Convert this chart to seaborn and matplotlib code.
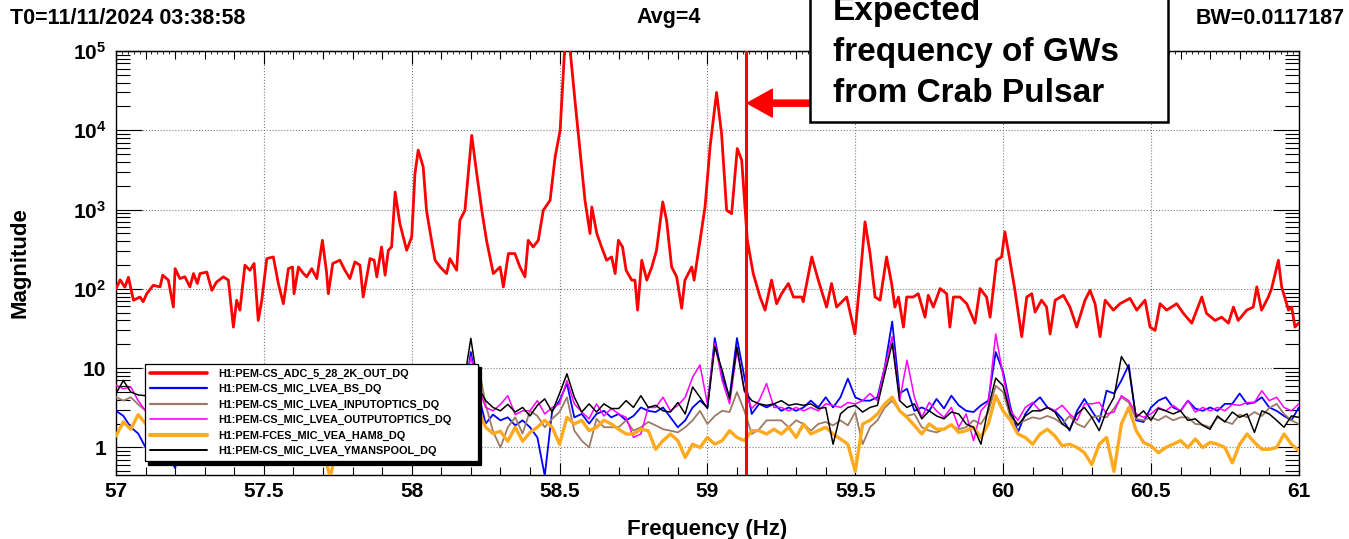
# -*- coding: utf-8 -*-
"""
Crab pulsar band: DTT style magnitude spectrum of H1 ADC channel and PEM microphones
57-61 Hz, log magnitude, values read off the screenshot.
"""

import matplotlib
matplotlib.use("Agg")
import numpy as np
import pandas as pd
import matplotlib.pyplot as plt
import seaborn as sns
from matplotlib.ticker import FixedLocator, FixedFormatter, MultipleLocator, LogLocator, NullFormatter
from matplotlib.patches import Rectangle

# ========================= data =========================
CHANNELS = [
    "H1:PEM-CS_ADC_5_28_2K_OUT_DQ",
    "H1:PEM-CS_MIC_LVEA_BS_DQ",
    "H1:PEM-CS_MIC_LVEA_INPUTOPTICS_DQ",
    "H1:PEM-CS_MIC_LVEA_OUTPUTOPTICS_DQ",
    "H1:PEM-FCES_MIC_VEA_HAM8_DQ",
    "H1:PEM-CS_MIC_LVEA_YMANSPOOL_DQ",
]
COLORS = ["#ff0000", "#0000ff", "#9c7b66", "#ff00ff", "#ffaa1e", "#000000"]
LINE_W = [2.0, 1.3, 1.3, 1.1, 2.4, 1.1]
LEGEND_W = [2.6, 1.6, 1.6, 1.2, 3.0, 1.4]

# red ADC channel, sampled where it was read
red_freq = [
    57.000, 57.014, 57.030, 57.042, 57.059, 57.081, 57.092, 57.104, 57.126, 57.149,
    57.158, 57.177, 57.194, 57.200, 57.216, 57.233, 57.250, 57.262, 57.275, 57.284,
    57.307, 57.324, 57.340, 57.363, 57.380, 57.397, 57.408, 57.419, 57.436, 57.453,
    57.467, 57.481, 57.493, 57.510, 57.532, 57.549, 57.566, 57.583, 57.597, 57.602,
    57.617, 57.634, 57.645, 57.662, 57.679, 57.698, 57.712, 57.718, 57.733, 57.757,
    57.774, 57.791, 57.808, 57.825, 57.836, 57.859, 57.873, 57.882, 57.898, 57.910,
    57.921, 57.932, 57.944, 57.960, 57.983, 58.000, 58.011, 58.022, 58.039, 58.050,
    58.067, 58.079, 58.096, 58.118, 58.129, 58.152, 58.163, 58.180, 58.203, 58.220,
    58.237, 58.253, 58.276, 58.299,
    58.310, 58.327, 58.349, 58.366, 58.383, 58.394, 58.411, 58.428, 58.445, 58.468,
    58.485, 58.502, 58.518, 58.535, 58.552, 58.569, 58.586, 58.603, 58.609, 58.626,
    58.642, 58.659, 58.676, 58.688, 58.699, 58.713, 58.725, 58.744, 58.755, 58.764,
    58.778, 58.795, 58.812, 58.828, 58.849, 58.862, 58.879, 58.896, 58.913, 58.924,
    58.947, 58.955, 58.975, 58.992, 59.009, 59.031, 59.048, 59.065, 59.082, 59.101,
    59.116, 59.127, 59.135, 59.155, 59.178, 59.195, 59.217, 59.234, 59.251, 59.274,
    59.291, 59.319, 59.324, 59.353, 59.375, 59.403, 59.420, 59.437, 59.471, 59.499,
    59.516, 59.533, 59.550, 59.567, 59.584, 59.606, 59.623, 59.634, 59.646, 59.663,
    59.674, 59.696, 59.713,
    59.736, 59.747, 59.764, 59.787, 59.809, 59.820, 59.832, 59.854, 59.877, 59.905,
    59.922, 59.944, 59.956, 59.978, 59.995, 60.006, 60.023, 60.040, 60.063, 60.080,
    60.097, 60.108, 60.130, 60.147, 60.159, 60.176, 60.204, 60.226, 60.249, 60.277,
    60.294, 60.311, 60.328, 60.345, 60.373, 60.395, 60.429, 60.452, 60.480, 60.497,
    60.514, 60.531, 60.553, 60.587, 60.610, 60.638, 60.655, 60.672, 60.688, 60.717,
    60.739, 60.762, 60.779, 60.795, 60.824, 60.846, 60.858, 60.874, 60.897, 60.908,
    60.931, 60.942, 60.965, 60.976, 60.987, 60.999,
]
red_mag = [
    100, 130, 105, 140, 72, 79, 69, 87, 111, 106,
    149, 129, 59, 180, 135, 142, 106, 156, 117, 156,
    163, 96, 122, 142, 129, 33, 72, 54, 199, 172,
    209, 40, 72, 241, 253, 117, 65, 180, 189, 87,
    189, 156, 142, 180, 135, 410, 163, 87, 209, 230,
    172, 135, 219, 199, 79, 241, 230, 142, 338, 149,
    307, 338, 1665, 665, 307, 452, 2830, 5620, 3430, 980,
    410, 230, 189, 156, 241, 172, 732, 980, 8620, 2830,
    980, 410, 156, 189,
    106, 279, 279, 189, 142, 410, 338, 410, 980, 1310,
    4600, 10000, 120000, 110000, 24000, 5620, 1310, 500, 1080, 500,
    338, 230, 253, 156, 410, 338, 172, 129, 129, 54,
    230, 129, 189, 307, 1250, 732, 189, 142, 57, 129,
    189, 129, 410, 1080, 6180, 30000, 9000, 980, 890, 5890,
    4200, 1080, 410, 156, 79, 54, 129, 65, 87, 117,
    79, 79, 69, 253, 129, 59, 117, 59, 79, 27,
    129, 700, 279, 79, 72, 253, 117, 59, 79, 33,
    79, 79, 87,
    44, 83, 59, 101, 87, 33, 79, 79, 65, 37,
    101, 79, 44, 230, 253, 524, 230, 96, 25, 79,
    87, 51, 72, 59, 27, 72, 83, 59, 33, 72,
    96, 65, 25, 72, 54, 65, 76, 54, 72, 33,
    30, 65, 54, 65, 49, 37, 54, 79, 49, 40,
    44, 37, 59, 40, 54, 59, 106, 54, 79, 101,
    230, 106, 54, 59, 33, 37,
]

# microphones share one frequency grid, 57.000 ... 61.000 Hz in 0.025 Hz bins
mic_freq = np.round(np.linspace(57.0, 61.0, 161), 3)

blue_mag = [
    2.9, 2.5, 1.8, 1.5,
    1.0, 1.4, 1.2, 0.8, 0.55, 1.3, 1.8, 2.0, 1.7, 2.2, 2.0, 1.8, 2.4, 2.1, 1.9, 2.3,
    2.0, 2.6, 2.2, 1.9, 2.4, 2.1, 2.5, 2.0, 2.3, 1.9, 2.2, 2.6, 2.1, 2.4, 2.0, 2.3,
    2.7, 2.2, 2.5, 2.1, 2.4, 2.6, 2.2, 2.0, 2.5, 2.3, 2.8, 3.5,
    16, 4.8, 2.0, 2.6, 2.2, 2.4, 1.9, 2.2,
    1.8, 1.34, 0.44, 2.9, 3.9, 6.4, 2.4, 2.65, 2.0, 2.65, 2.9, 2.4, 2.65, 2.2, 2.5, 3.2,
    2.9, 2.8, 3.2, 2.4, 1.8, 2.2, 3.2, 3.9, 3.2, 24, 7.7, 4.3, 24, 7.7, 2.65, 3.55,
    3.2, 3.55, 2.9, 3.2, 2.9, 3.2, 3.9, 3.2, 4.3, 3.2, 4.3, 7.4, 4.3, 3.9, 3.9, 4.3,
    10.4, 38.8, 4.8, 5.5, 2.9,
    3.2, 2.9, 4.1, 3.1, 4.5, 3.4, 2.9, 2.8, 3.4, 3.9, 16, 9, 3.2, 1.55, 2.65, 3.55,
    4.3, 3.2, 2.9, 2.3, 1.63, 2.9, 4.1, 2.9, 2.1, 5.2, 4.8, 7, 11, 2.2, 2.1, 3.2,
    3.9, 4.3, 3.2, 2.9, 3.9, 3.1, 2.9, 3.2, 2.9, 3.55, 3.55, 4.8, 3.55, 3.7, 4.3, 3.2,
    2.9, 2.5, 2.2, 3.2,
]
brown_mag = [
    4.3, 3.9, 4.3, 3.5,
    2.9, 3.2, 2.6, 2.4, 2.8, 2.2, 2.5, 2.0, 2.3, 2.6, 2.1, 1.9, 2.4, 2.2, 1.8, 2.5,
    2.0, 2.3, 1.9, 2.1, 2.4, 1.7, 2.2, 2.0, 2.5, 1.9, 2.3, 2.1, 1.8, 2.2, 2.6, 2.0,
    1.9, 2.3, 2.1, 2.4, 1.8, 2.2, 2.5, 2.0, 2.3, 2.7, 3.2, 4.5,
    7.7, 11, 3.5, 1.6, 1.0, 1.8, 2.4, 1.5,
    2.9, 2.5, 1.8, 2.3, 2.8, 4.3, 1.63, 1.22, 1.0, 2.3, 1.8, 1.8, 1.8, 2.2, 1.63, 1.8,
    2.1, 1.9, 1.7, 1.63, 1.55, 1.8, 2.2, 2.9, 1.98, 2.5, 2.9, 2.8, 5.0, 2.9, 1.48, 1.7,
    2.2, 2.2, 2.2, 1.8, 2.2, 1.98, 1.63, 1.98, 2.1, 1.9, 2.2, 1.9, 2.8, 1.1, 1.8, 2.2,
    3.2, 3.9, 2.9, 2.5, 2.65,
    1.8, 1.63, 1.55, 1.7, 1.9, 1.7, 1.8, 2.2, 1.98, 2.8, 6, 5, 2.4, 1.98, 2.2, 2.4,
    2.3, 2.5, 2.3, 1.98, 2.5, 1.98, 1.8, 2.4, 2.5, 2.4, 3.1, 4.3, 3.7, 2.3, 2.2, 2.4,
    2.2, 2.5, 2.2, 2.4, 2.4, 1.98, 1.94, 1.8, 2.4, 2.14, 1.98, 2.6, 2.4, 2.8, 2.5, 3.15,
    3.55, 2.65, 2.2, 1.98,
]
magenta_mag = [
    6.1, 5.5, 5.8, 3.9,
    2.9, 3.2, 3.6, 3.0, 2.7, 3.3, 3.8, 3.1, 2.9, 3.4, 3.0, 3.6, 3.2, 2.8, 3.5, 3.1,
    3.9, 3.3, 2.9, 3.6, 3.2, 3.0, 3.7, 3.4, 2.9, 3.3, 3.8, 3.1, 3.5, 3.0, 3.4, 3.9,
    3.2, 3.6, 3.1, 3.3, 3.7, 3.0, 3.4, 3.2, 3.6, 3.9, 4.2, 5.0,
    14, 5.8, 3.2, 2.9, 3.5, 4.5, 2.6, 2.9,
    2.9, 3.9, 2.65, 3.2, 3.55, 7.0, 3.55, 2.8, 2.3, 3.55, 2.5, 3.1, 2.65, 2.4, 1.34, 1.48,
    3.2, 3.2, 4.3, 2.9, 3.4, 4.3, 7.7, 11, 3.55, 20.6, 7.0, 3.55, 16.9, 5.2, 3.1, 3.9,
    6.4, 3.2, 3.2, 2.9, 3.2, 2.9, 3.2, 2.9, 3.55, 3.4, 3.2, 3.7, 3.55, 3.9, 4.8, 3.9,
    10.4, 25, 3.9, 12.6, 4.3,
    2.4, 3.7, 2.9, 2.4, 3.2, 1.8, 2.65, 1.22, 2.9, 3.7, 27, 8, 2.9, 2.2, 3.2, 3.7,
    2.9, 3.2, 2.9, 3.4, 2.65, 2.2, 3.55, 3.55, 3.7, 2.65, 2.8, 4.5, 3.9, 2.65, 2.4, 2.65,
    3.2, 2.9, 3.4, 2.9, 3.9, 2.8, 3.2, 2.9, 3.2, 2.9, 3.5, 3.4, 3.7, 3.7, 5.2, 3.9,
    4.3, 3.2, 2.9, 3.55,
]
orange_mag = [
    1.4, 2.1, 1.7, 2.6,
    2.0, 1.6, 1.9, 1.4, 1.7, 1.3, 1.8, 1.5, 1.2, 1.6, 1.4, 1.9, 1.3, 1.7, 1.5, 1.2,
    1.6, 1.4, 1.8, 1.3, 1.5, 1.7, 1.2, 1.4, 0.9, 0.42, 1.3, 1.6, 1.4, 1.8, 1.5, 1.3,
    1.7, 1.4, 1.9, 1.6, 1.3, 1.8, 1.5, 2.0, 1.7, 2.2, 1.9, 2.4,
    3.9, 2.9, 1.8, 1.5, 1.6, 1.2, 1.8, 1.2,
    1.55, 1.8, 2.2, 1.8, 1.1, 2.4, 1.98, 2.2, 1.63, 1.8, 2.2, 1.98, 1.7, 1.48, 1.48, 1.7,
    1.63, 0.95, 1.22, 1.48, 1.22, 0.75, 1.1, 1.0, 1.34, 1.1, 1.22, 1.63, 1.34, 1.22, 1.63, 1.63,
    1.48, 1.7, 1.48, 1.8, 1.34, 1.98, 1.48, 1.63, 1.8, 1.48, 1.28, 1.1, 0.5, 1.98, 2.2, 2.65,
    3.55, 4.3, 2.9, 2.4, 1.9,
    1.48, 1.98, 1.7, 1.7, 1.94, 1.55, 1.63, 1.8, 1.34, 1.98, 4.5, 2.9, 2.2, 1.48, 1.34, 1.1,
    1.48, 1.7, 1.4, 1.05, 1.1, 1.0, 0.86, 0.61, 1.1, 1.34, 0.5, 1.98, 3.2, 1.63, 1.16, 1.05,
    0.86, 1.0, 1.1, 1.22, 1.0, 1.28, 1.0, 1.16, 1.1, 1.0, 0.64, 1.1, 1.48, 1.16, 0.95, 0.95,
    1.0, 1.48, 1.1, 0.91,
]
black_mag = [
    4.8, 7.0, 5.0, 4.6,
    4.5, 4.2, 3.8, 3.5, 3.2, 3.6, 3.0, 3.4, 2.8, 3.1, 3.5, 2.9, 3.3, 3.7, 3.0, 3.2,
    2.8, 3.5, 3.9, 3.1, 2.7, 3.3, 3.6, 3.0, 3.4, 2.9, 3.2, 3.8, 3.1, 2.8, 3.5, 3.3,
    3.0, 3.6, 3.2, 2.9, 3.4, 3.7, 3.1, 3.3, 3.0, 3.5, 4.0, 6.0,
    23.8, 5.8, 3.9, 3.2, 2.9, 3.5, 2.8, 3.2,
    2.5, 3.4, 4.1, 2.8, 4.8, 8.5, 4.3, 2.8, 3.55, 2.8, 3.55, 3.1, 3.1, 3.9, 3.2, 4.5,
    3.2, 3.4, 2.9, 2.8, 3.7, 2.65, 5.8, 4.3, 3.1, 18.6, 9.4, 4.1, 18.6, 5.2, 3.9, 3.55,
    3.4, 3.55, 3.9, 3.4, 3.55, 3.4, 3.55, 3.1, 3.2, 1.1, 2.65, 3.2, 3.4, 2.8, 3.2, 3.4,
    8.5, 20.6, 3.9, 3.2, 3.55,
    2.3, 2.9, 2.5, 2.3, 2.8, 2.65, 1.98, 1.8, 1.1, 3.2, 7.5, 6, 2.65, 1.9, 2.5, 2.9,
    2.9, 3.2, 2.8, 1.98, 1.7, 2.65, 3.2, 2.4, 1.63, 2.9, 4.3, 14, 10, 2.4, 2.9, 2.2,
    3.1, 2.9, 2.65, 2.9, 2.2, 2.3, 1.9, 1.7, 2.5, 2.1, 2.8, 2.4, 2.65, 1.55, 2.9, 2.65,
    2.2, 1.8, 2.5, 2.4,
]

CRAB_GW_FREQ = 59.13

xtick_vals = [57, 57.5, 58, 58.5, 59, 59.5, 60, 60.5, 61]
xtick_labels = ["57", "57.5", "58", "58.5", "59", "59.5", "60", "60.5", "61"]
ytick_vals = [1, 10, 1e2, 1e3, 1e4, 1e5]
ytick_labels = ["1", "10", r"$10^{2}$", r"$10^{3}$", r"$10^{4}$", r"$10^{5}$"]

HEADER_LEFT = "T0=11/11/2024 03:38:58"
HEADER_MID = "Avg=4"
HEADER_RIGHT = "BW=0.0117187"
NOTE = "Expected\nfrequency of GWs\nfrom Crab Pulsar"
# ========================================================

sns.set_style("ticks", {"axes.edgecolor": "black", "xtick.color": "black",
                        "ytick.color": "black", "text.color": "black",
                        "axes.labelcolor": "black"})
plt.rcParams['font.family'] = ['Liberation Sans', 'DejaVu Sans']
plt.rcParams['font.weight'] = 'bold'
plt.rcParams['mathtext.fontset'] = 'custom'
plt.rcParams['mathtext.rm'] = 'Liberation Sans:bold'
plt.rcParams['mathtext.it'] = 'Liberation Sans:bold'
plt.rcParams['mathtext.bf'] = 'Liberation Sans:bold'

W, H = 1349, 539
fig = plt.figure(figsize=(W / 100, H / 100), dpi=100)
ax = fig.add_axes([116 / W, 64 / H, 1182.8 / W, 424 / H])

df_red = pd.DataFrame({"freq": red_freq, "mag": red_mag})
df_mic = pd.DataFrame({"freq": mic_freq, CHANNELS[1]: blue_mag, CHANNELS[2]: brown_mag,
                       CHANNELS[3]: magenta_mag, CHANNELS[4]: orange_mag,
                       CHANNELS[5]: black_mag})

sns.lineplot(data=df_red, x="freq", y="mag", color=COLORS[0], linewidth=LINE_W[0],
             label=CHANNELS[0], estimator=None, ax=ax, zorder=3)
for i in range(1, 6):
    sns.lineplot(data=df_mic, x="freq", y=CHANNELS[i], color=COLORS[i],
                 linewidth=LINE_W[i], label=CHANNELS[i], estimator=None, ax=ax, zorder=3)

ax.set_yscale('log')
ax.set_xlim(57, 61)
ax.set_ylim(0.45, 1e5)

ax.axvline(CRAB_GW_FREQ, color="red", lw=2.2, zorder=5)

# ticks, ROOT look: inside, all four sides
ax.xaxis.set_major_locator(FixedLocator(xtick_vals))
ax.xaxis.set_major_formatter(FixedFormatter(xtick_labels))
ax.xaxis.set_minor_locator(MultipleLocator(0.1))
ax.yaxis.set_major_locator(FixedLocator(ytick_vals))
ax.yaxis.set_major_formatter(FixedFormatter(ytick_labels))
ax.yaxis.set_minor_locator(LogLocator(base=10, subs=np.arange(2, 10), numticks=20))
ax.yaxis.set_minor_formatter(NullFormatter())
ax.tick_params(which='both', direction='in', top=True, right=True, width=0.8)
ax.tick_params(axis='x', which='major', length=9, labelsize=15, pad=5)
ax.tick_params(axis='x', which='minor', length=5.5)
ax.tick_params(axis='y', which='major', length=19, labelsize=15, pad=7)
ax.tick_params(axis='y', which='minor', length=10)
for sp in ax.spines.values():
    sp.set_linewidth(1.0)
    sp.set_color("black")

top = ax.secondary_xaxis('top')
top.xaxis.set_major_locator(MultipleLocator(0.02))
top.tick_params(direction='in', length=2, width=0.6, labeltop=False)

ax.grid(True, which='major', ls=':', color='#808080', lw=0.8)
ax.set_axisbelow(True)

ax.set_xlabel("Frequency (Hz)", fontsize=16, fontweight='bold')
ax.set_ylabel("Magnitude", fontsize=16, fontweight='bold')
ax.xaxis.set_label_coords(0.5, -0.128)
ax.xaxis.label.set_va('center')
ax.yaxis.set_label_coords(-0.081, 0.502)
ax.yaxis.label.set_va('center')

handles, labels = ax.get_legend_handles_labels()
leg = ax.legend(handles, labels, loc='upper left',
                bbox_to_anchor=(0.0245, 0.2524, 0.2815, 0.01), mode='expand',
                fontsize=7.8, frameon=True, fancybox=False, edgecolor='black',
                framealpha=1, shadow={'color': 'black', 'alpha': 1, 'ox': 2.5, 'oy': -2.5},
                borderaxespad=0, handlelength=5.3, handletextpad=1.0,
                labelspacing=0.5, borderpad=0.45)
leg.get_frame().set_linewidth(0.9)
leg.set_zorder(8)
for ln, w in zip(leg.get_lines(), LEGEND_W):
    ln.set_linewidth(w)

# headers
fig.text(10 / W, 1 - 18 / H, HEADER_LEFT, fontsize=15.5, fontweight='bold', va='center', ha='left')
fig.text(669 / W, 1 - 18 / H, HEADER_MID, fontsize=15.5, fontweight='bold', va='center', ha='center')
fig.text(1345 / W, 1 - 18 / H, HEADER_RIGHT, fontsize=15.5, fontweight='bold', va='center', ha='right')

# callout box + arrow to the expected GW frequency
box = Rectangle((810 / W, 1 - 122 / H), 358 / W, 0.4, transform=fig.transFigure,
                facecolor='white', edgecolor='black', lw=1.8, clip_on=False, zorder=10)
fig.add_artist(box)
for k, line in enumerate(NOTE.split("\n")):
    fig.text(833 / W, 1 - (20 + 41 * k) / H, line, fontsize=24, fontweight='bold',
             ha='left', va='baseline', zorder=11)

ax.annotate("", xy=(CRAB_GW_FREQ + 0.005, 2.2e4), xytext=(59.347, 2.2e4),
            arrowprops=dict(arrowstyle="simple,head_length=0.9,head_width=1.0,tail_width=0.22",
                            color="red", mutation_scale=20, shrinkA=0, shrinkB=0),
            zorder=6, annotation_clip=False)

fig.savefig("out.png", dpi=100)
